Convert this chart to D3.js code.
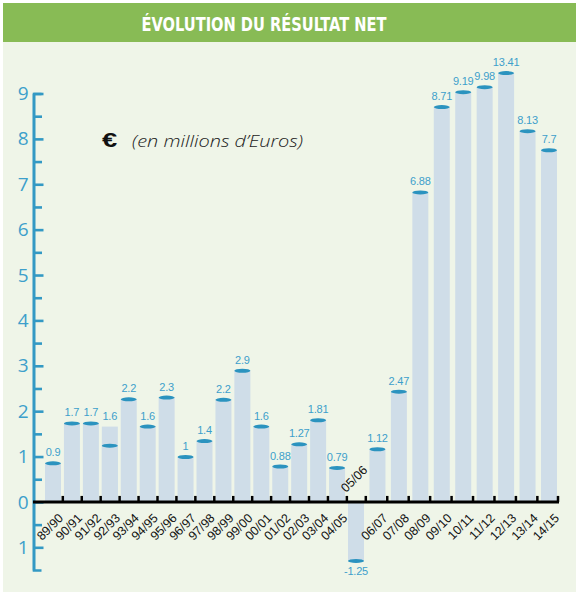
<!DOCTYPE html>
<html>
<head>
<meta charset="utf-8">
<script src="https://cdn.jsdelivr.net/npm/d3@7.9.0/dist/d3.min.js"></script>
<style>
  html, body { margin: 0; padding: 0; background: #fff; }
  svg { display: block; }
</style>
</head>
<body>
<svg id="chart" width="576" height="592"></svg>
<script>
// seasons on the x axis
const seasons = ['89/90', '90/91', '91/92', '92/93', '93/94', '94/95', '95/96', '96/97',
  '97/98', '98/99', '99/00', '00/01', '01/02', '02/03', '03/04', '04/05', '05/06',
  '06/07', '07/08', '08/09', '09/10', '10/11', '11/12', '12/13', '13/14', '14/15'];

// printed values (labels above the bars)
const printed = ['0.9', '1.7', '1.7', '1.6', '2.2', '1.6', '2.3', '1', '1.4', '2.2', '2.9',
  '1.6', '0.88', '1.27', '1.81', '0.79', '-1.25', '1.12', '2.47', '6.88', '8.71',
  '9.19', '9.98', '13.41', '8.13', '7.7'];

// drawn bar heights (top of chart is capped near 9)
const heights = [0.85, 1.73, 1.73, 1.24, 2.26, 1.66, 2.30, 0.99, 1.34, 2.25, 2.89,
  1.66, 0.78, 1.27, 1.80, 0.75, -1.30, 1.16, 2.43, 6.82, 8.70,
  9.03, 9.14, 9.45, 8.17, 7.75];

// the 92/93 bar has a taller pale body behind its marker
const ghostSeasons = ['92/93'];
const ghostHeights = [1.66];

const yMajor = [-1, 0, 1, 2, 3, 4, 5, 6, 7, 8, 9];
const yMinor = [-0.5, 0.5, 1.5, 2.5, 3.5, 4.5, 5.5, 6.5, 7.5, 8.5];

const svg = d3.select('#chart');
const blue = '#3399c4';
const barFill = '#cfdde8';
const capFill = '#2b93bf';
const labelBlue = '#3d9fcb';

// background + title banner
svg.append('rect').attr('x', 3).attr('y', 42).attr('width', 573).attr('height', 550).attr('fill', '#eff5e8');
svg.append('rect').attr('x', 3).attr('y', 3).attr('width', 573).attr('height', 39).attr('fill', '#88bb55');
svg.append('text')
  .attr('x', 264).attr('y', 31)
  .attr('text-anchor', 'middle')
  .attr('fill', '#fff')
  .attr('font-family', 'DejaVu Sans Condensed, DejaVu Sans, sans-serif')
  .attr('font-weight', 'bold')
  .attr('font-size', 19)
  .attr('textLength', 245)
  .attr('lengthAdjust', 'spacingAndGlyphs')
  .text('ÉVOLUTION DU RÉSULTAT NET');

// unit note
svg.append('text')
  .attr('transform', 'translate(102,146.5) scale(1.3,1)')
  .attr('font-family', 'Liberation Sans, Arial, sans-serif')
  .attr('font-weight', 'bold')
  .attr('font-size', 21)
  .attr('fill', '#111')
  .text('€');
svg.append('text')
  .attr('x', 132).attr('y', 147)
  .attr('font-family', 'Open Sans, DejaVu Sans, sans-serif')
  .attr('font-style', 'italic')
  .attr('font-weight', 300)
  .attr('font-size', 17)
  .attr('fill', '#222')
  .attr('textLength', 171)
  .attr('lengthAdjust', 'spacingAndGlyphs')
  .text('(en millions d’Euros)');

// scales
const y = d3.scaleLinear().domain([-1.5, 9]).range([570, 93.5]);
const idx = d3.scaleLinear().domain([0, 16, 25]).range([45, 348, 541]);
const barW = 16;
const left = s => idx(seasons.indexOf(s));

// y axis, major and minor ticks pointing right
const yAxisMajor = d3.axisLeft(y).tickValues(yMajor).tickSize(-10).tickSizeOuter(-8)
  .tickPadding(5).tickFormat(d => Math.abs(d));
const yAxisMinor = d3.axisLeft(y).tickValues(yMinor).tickSize(-8.5).tickSizeOuter(0).tickFormat('');

const gMinor = svg.append('g').attr('transform', 'translate(33.5,0)').call(yAxisMinor);
const gMajor = svg.append('g').attr('transform', 'translate(33.5,0)').call(yAxisMajor);
[gMinor, gMajor].forEach(g => {
  g.selectAll('path, line').attr('stroke', blue).attr('stroke-width', 2.6);
  g.select('.domain').attr('fill', 'none');
});
gMajor.selectAll('text')
  .attr('fill', labelBlue)
  .attr('font-family', 'Open Sans, Noto Sans, sans-serif')
  .attr('font-size', 19)
  .attr('x', -5);

// ghost body
svg.append('g').selectAll('rect')
  .data(ghostSeasons)
  .join('rect')
  .attr('x', d => left(d))
  .attr('width', barW)
  .attr('y', (d, i) => y(ghostHeights[i]))
  .attr('height', (d, i) => y(0) - y(ghostHeights[i]))
  .attr('fill', barFill);

// bars
const bars = seasons.map((s, i) => ({ s, h: heights[i], label: printed[i] }));
svg.append('g').selectAll('rect')
  .data(bars)
  .join('rect')
  .attr('x', d => left(d.s))
  .attr('width', barW)
  .attr('y', d => y(Math.max(0, d.h)))
  .attr('height', d => Math.abs(y(d.h) - y(0)))
  .attr('fill', barFill);

// caps
svg.append('g').selectAll('ellipse')
  .data(bars)
  .join('ellipse')
  .attr('cx', d => left(d.s) + barW / 2)
  .attr('cy', d => y(d.h))
  .attr('rx', barW / 2)
  .attr('ry', 2)
  .attr('fill', capFill);

// value labels
svg.append('g').selectAll('text')
  .data(bars)
  .join('text')
  .attr('x', d => left(d.s) + barW / 2)
  .attr('y', d => {
    if (d.h < 0) return y(d.h) + 14;
    const gi = ghostSeasons.indexOf(d.s);
    const top = gi >= 0 ? Math.max(d.h, ghostHeights[gi]) : d.h;
    return y(top) - 7;
  })
  .attr('text-anchor', 'middle')
  .attr('fill', labelBlue)
  .attr('font-family', 'Liberation Sans, Arial, sans-serif')
  .attr('font-size', 11)
  .attr('letter-spacing', -0.2)
  .text(d => d.label);

// baseline with ticks between bars
const x0 = 33, x1 = 559;
svg.append('line')
  .attr('x1', x0).attr('x2', x1)
  .attr('y1', y(0)).attr('y2', y(0))
  .attr('stroke', '#000').attr('stroke-width', 3);
svg.append('g').selectAll('line')
  .data(seasons)
  .join('line')
  .attr('x1', d => Math.min(left(d) + barW + 1.8, x1 - 1))
  .attr('x2', d => Math.min(left(d) + barW + 1.8, x1 - 1))
  .attr('y1', y(0))
  .attr('y2', y(0) - 6)
  .attr('stroke', '#000').attr('stroke-width', 2.5);

// season labels
svg.append('g').selectAll('text')
  .data(bars)
  .join('text')
  .attr('transform', d => d.h < 0
    ? `translate(${left(d.s) - 2},${y(0) - 9}) rotate(-45)`
    : `translate(${left(d.s) + barW + 3},${y(0) + 17}) rotate(-45)`)
  .attr('text-anchor', d => d.h < 0 ? 'start' : 'end')
  .attr('fill', '#111')
  .attr('font-family', 'Liberation Sans, Arial, sans-serif')
  .attr('font-size', 12.5)
  .text(d => d.s);
</script>
</body>
</html>
